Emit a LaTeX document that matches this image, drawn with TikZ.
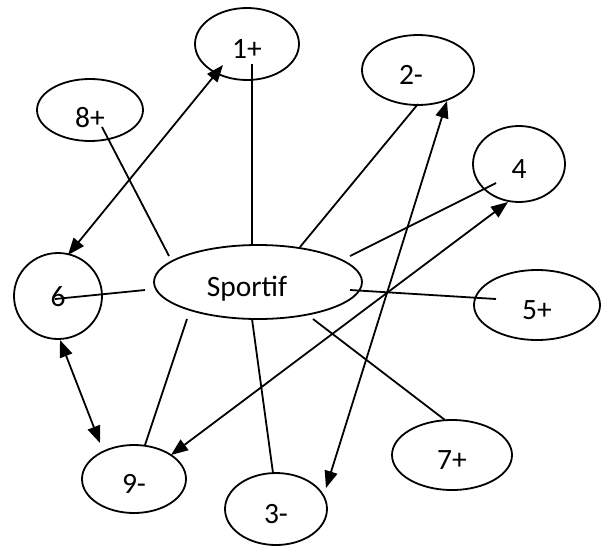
\documentclass[tikz,border=0pt]{standalone}
\usepackage{fontspec}
\setmainfont{Carlito}
\usetikzlibrary{shapes.geometric,arrows.meta,calc}
\tikzset{
  bub/.style={draw,ellipse,line width=1.8pt,inner sep=0pt,text height=28pt,text depth=0pt,font=\fontsize{29.5}{32}\selectfont},
  lnk/.style={line width=1.8pt},
  dbl/.style={line width=1.8pt,{Triangle[length=17pt,width=13pt]}-{Triangle[length=17pt,width=13pt]}}
}
\begin{document}
\begin{tikzpicture}[x=1pt,y=-1pt]
\useasboundingbox (0,0) rectangle (601,546);

\node[bub,minimum width=208pt,minimum height=74pt](sp) at (258,282){\hspace*{-22pt}Sportif};
\node[bub,minimum width=104pt,minimum height=72pt](n1) at (247,44){1+};
\node[bub,minimum width=106pt,minimum height=62pt,text height=34pt](n8) at (90,110){8+};
\node[bub,minimum width=112pt,minimum height=70pt](n2) at (418,70){\hspace*{-14pt}2-};
\node[bub,minimum width=92pt,minimum height=76pt](n4) at (519,164){4};
\node[bub,minimum width=88pt,minimum height=86pt,text height=20pt](n6) at (58,296){6};
\node[bub,minimum width=126pt,minimum height=70pt](n5) at (537,305){5+};
\node[bub,minimum width=120pt,minimum height=70pt](n7) at (452,455){7+};
\node[bub,minimum width=104pt,minimum height=68pt](n9) at (134,479){9-};
\node[bub,minimum width=102pt,minimum height=72pt](n3) at (276,509){3-};

% spokes to the centre
\foreach \n/\ax/\ay/\bx/\by in {n1/5/20/-6/-37, n8/12/17/-89/-26, n2/0/34/42/-35, n4/-23/19/92/-26,
  n6/-3/3/-113/8, n5/-41/-6/92/8, n7/-7/-35/55/37, n9/11/-34/-71/37, n3/-3/-36/-6/37}
{
    \draw[lnk] ($(\n)+(\ax,\ay)$)--($(sp)+(\bx,\by)$);
}

% double arrows
\draw[dbl] ($(n1)+(-24,21)$)--($(n6)+(10,-41)$);
\draw[dbl] ($(n2)+(29,31)$)--($(n3)+(50,-21)$);
\draw[dbl] ($(n4)+(-11,38)$)--($(n9)+(37,-24)$);
\draw[dbl] ($(n6)+(2,44)$)--($(n9)+(-34,-36)$);
\end{tikzpicture}
\end{document}
